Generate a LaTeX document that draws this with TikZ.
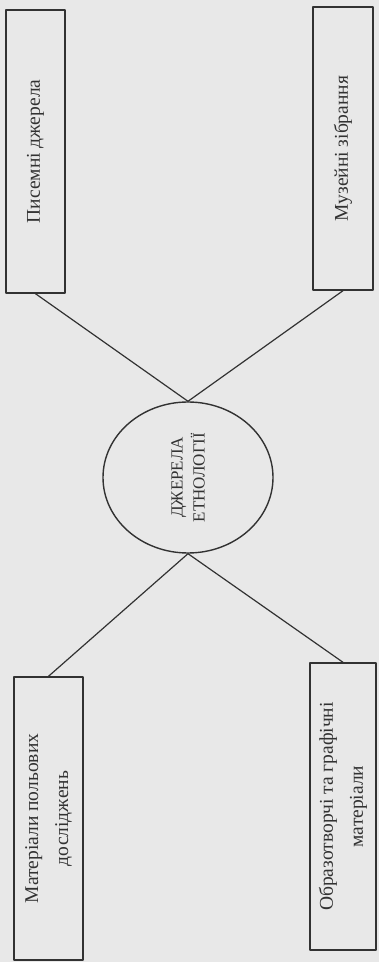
\documentclass[tikz,border=0pt]{standalone}
\usepackage{fontspec}
\setmainfont{Liberation Serif}
\usetikzlibrary{shapes.geometric}
\definecolor{paper}{RGB}{232,232,232}
\definecolor{ink}{RGB}{50,50,50}
\begin{document}
\begin{tikzpicture}[x=1pt, y=1pt, line join=round, line cap=round,
  box/.style={draw=ink, line width=1.4pt, rotate=90, inner sep=0pt, align=center, text=ink,
    font=\fontsize{19.5}{30}\selectfont},
  hub/.style={draw=ink, line width=1.4pt, ellipse, rotate=90, inner sep=0pt, align=center, text=ink,
    minimum width=151pt, minimum height=170pt, font=\fontsize{17}{22}\selectfont},
  link/.style={draw=ink, line width=1.2pt}]
\fill[paper] (0,0) rectangle (379,962);
\useasboundingbox (0,0) rectangle (379,962);
\node[box, minimum width=283pt, minimum height=59pt] (pysemni) at (35.5,810.5) {Писемні джерела};
\node[box, minimum width=283pt, minimum height=60pt] (muzeini) at (343,813.5) {Музейні зібрання};
\node[box, minimum width=283pt, minimum height=69pt] (polovi) at (48.5,143.5) {Матеріали польових\\досліджень};
\node[box, minimum width=287pt, minimum height=66pt] (obrazo) at (343,155.5) {Образотворчі та графічні\\матеріали};
\node[hub] (dzherela) at (188,484.5) {ДЖЕРЕЛА\\ЕТНОЛОГІЇ};
\draw[link] (pysemni.west) -- (dzherela.east);
\draw[link] (muzeini.west) -- (dzherela.east);
\draw[link] (polovi.east) -- (dzherela.west);
\draw[link] (obrazo.east) -- (dzherela.west);
\end{tikzpicture}
\end{document}
